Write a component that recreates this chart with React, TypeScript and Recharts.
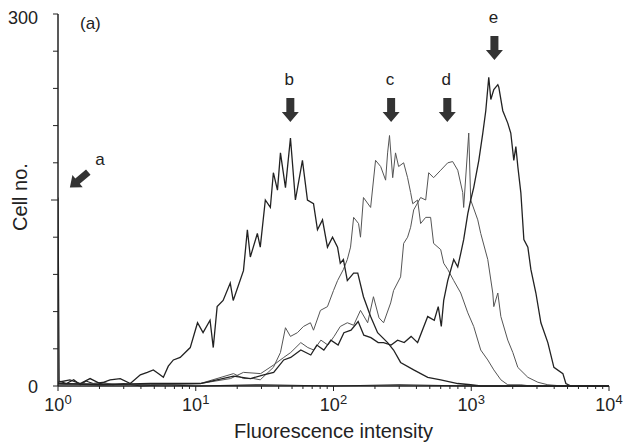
import React from "react";
import {
  LineChart,
  Line,
  XAxis,
  YAxis,
  ReferenceDot,
} from "recharts";

// [fluorescence, cell count]
const curveA: [number, number][] = [
  [1, 152], [1.02, 4], [1.15, 2], [1.3, 5], [1.45, 1], [1.6, 4], [1.8, 2],
  [2.1, 3], [2.5, 1], [3, 2], [4, 0], [6, 1], [10, 0], [30, 1], [100, 0],
  [300, 1], [1000, 0], [3000, 0], [10000, 0],
];

const curveB: [number, number][] = [
  [1, 3], [1.22, 5], [1.45, 2], [1.71, 6], [2.02, 2], [2.39, 5], [2.83, 6],
  [3.35, 2], [3.96, 9], [4.45, 11], [4.92, 13], [5.35, 10], [5.82, 7],
  [6.32, 16], [6.88, 21], [7.71, 23], [9.12, 31], [10.3, 51], [11.3, 43],
  [12.7, 53], [13.4, 31], [14.3, 64], [15.8, 69], [17.8, 83], [18.7, 69],
  [22.2, 93], [23.7, 126], [24.9, 104], [28, 123], [29.4, 112], [32, 150],
  [34.8, 144], [36.6, 172], [39.2, 158], [41.2, 188], [44.8, 160], [48.7, 200],
  [52.9, 150], [59.5, 182], [64.7, 150], [71.6, 147], [76.5, 126], [83.2, 134],
  [90.4, 112], [98.4, 120], [107, 112], [112, 99], [118, 102], [126, 85],
  [140, 91], [150, 91], [165, 72], [186, 56], [209, 43], [247, 35], [273, 29],
  [307, 19], [382, 13], [483, 7], [600, 5], [798, 2], [991, 1], [1172, 0],
  [2291, 0], [4627, 0], [10000, 0],
];

const curveC: [number, number][] = [
  [1, 2], [1.45, 2], [2.02, 1], [4.68, 1], [10.8, 2], [18.8, 10], [22.2, 6],
  [26.3, 6], [29.4, 5], [36.6, 15], [41.2, 27], [44.8, 47], [48.7, 40],
  [54.7, 43], [60.5, 48], [68, 51], [71.6, 45], [80.4, 61], [90.4, 64],
  [100, 77], [107, 85], [118, 94], [126, 102], [133, 112], [140, 136],
  [152, 131], [157, 120], [165, 152], [186, 144], [202, 182], [220, 177],
  [239, 166], [247, 188], [255, 202], [269, 168], [282, 188], [297, 177],
  [323, 180], [345, 168], [363, 156], [376, 147], [408, 150], [429, 131],
  [467, 136], [507, 136], [533, 115], [600, 110], [631, 99], [675, 94],
  [746, 85], [839, 75], [944, 59], [1042, 48], [1172, 29], [1318, 21],
  [1458, 13], [1640, 5], [1841, 1], [2291, 1], [2709, 0], [10000, 0],
];

const curveD: [number, number][] = [
  [1, 1], [2.02, 2], [4.68, 1], [10.8, 2], [17.9, 6], [22.2, 11], [29.6, 10],
  [36.8, 17], [43.5, 23], [48.9, 27], [57.9, 35], [65.1, 31], [72, 29],
  [81, 37], [91.1, 33], [101, 40], [112, 48], [126, 51], [140, 49], [157, 61],
  [177, 51], [195, 72], [214, 55], [231, 51], [260, 67], [273, 77], [307, 88],
  [323, 115], [345, 120], [363, 128], [382, 142], [429, 152], [467, 150],
  [491, 172], [533, 168], [600, 174], [675, 180], [733, 181], [798, 174],
  [867, 156], [881, 144], [959, 204], [991, 150], [1115, 134], [1172, 123],
  [1318, 102], [1433, 75], [1458, 64], [1559, 75], [1640, 56], [1841, 37],
  [2004, 27], [2178, 15], [2576, 7], [3046, 3], [3597, 1], [4627, 0],
  [10000, 0],
];

const curveE: [number, number][] = [
  [1, 2], [2.02, 1], [4.68, 2], [10.8, 2], [18.8, 8], [25, 6], [31.1, 9],
  [36.8, 11], [43.5, 21], [48.9, 23], [57.9, 29], [68.4, 25], [75.7, 33],
  [85.1, 29], [95.7, 37], [108, 33], [119, 43], [134, 45], [151, 52],
  [166, 41], [187, 39], [211, 35], [231, 35], [262, 33], [292, 37], [326, 35],
  [366, 40], [408, 35], [483, 56], [539, 53], [576, 64], [606, 48], [631, 69],
  [675, 85], [746, 102], [798, 96], [839, 107], [881, 118], [944, 139],
  [991, 150], [1042, 160], [1135, 182], [1213, 204], [1275, 222], [1340, 249],
  [1387, 231], [1458, 239], [1559, 243], [1585, 241], [1694, 222], [1841, 212],
  [1936, 204], [2037, 182], [2108, 193], [2178, 177], [2291, 156], [2410, 118],
  [2576, 112], [2709, 94], [2946, 75], [3203, 51], [3597, 35], [3981, 15],
  [4627, 10], [4864, 2], [5295, 0], [10000, 0],
];

const xTicks = [
  1, 2, 3, 4, 5, 6, 7, 8, 9,
  10, 20, 30, 40, 50, 60, 70, 80, 90,
  100, 200, 300, 400, 500, 600, 700, 800, 900,
  1000, 2000, 3000, 4000, 5000, 6000, 7000, 8000, 9000,
  10000,
];
const yTicks = [0, 30, 60, 90, 120, 150, 180, 210, 240, 270, 300];

// arrow tips: [label, fluorescence, count]
const arrows: [string, number, number][] = [
  ["b", 48.6, 213],
  ["c", 262, 213],
  ["d", 670, 213],
  ["e", 1473, 263],
];
const arrowA: [string, number, number] = ["a", 1.22, 160];

const toPoints = (c: [number, number][]) => c.map(([x, y]) => ({ x, y }));

const INK = "#222";
const FONT = "'Liberation Sans', Arial, sans-serif";

const XTick = (props: any) => {
  const { x, y, payload } = props;
  const lg = Math.log10(payload.value);
  const exp = Math.round(lg);
  const major = Math.abs(lg - exp) < 1e-6;
  return (
    <g>
      <line x1={x} x2={x} y1={y} y2={y + (major ? 5 : 3)} stroke={INK} />
      {major && (
        <text x={x} y={y + 25} textAnchor="middle" fontSize={18} fill={INK}>
          <tspan>10</tspan>
          <tspan dy={-7} fontSize={13}>
            {exp}
          </tspan>
        </text>
      )}
    </g>
  );
};

const YTick = (props: any) => {
  const { x, y, payload } = props;
  const v = payload.value;
  return (
    <g>
      <line x1={x - (v === 150 ? 7 : 5)} x2={x} y1={y} y2={y} stroke={INK} />
      {(v === 0 || v === 300) && (
        <text
          x={x - 20}
          y={y + (v === 300 ? 10 : 7)}
          textAnchor="end"
          fontSize={18}
          fill={INK}
        >
          {v}
        </text>
      )}
    </g>
  );
};

const DownArrow = (label: string) => (props: any) => {
  const { cx, cy } = props;
  const pts = [
    [cx - 4, cy - 24],
    [cx + 4, cy - 24],
    [cx + 4, cy - 10],
    [cx + 8.5, cy - 10],
    [cx, cy],
    [cx - 8.5, cy - 10],
    [cx - 4, cy - 10],
  ]
    .map((p) => p.join(","))
    .join(" ");
  return (
    <g>
      <polygon points={pts} fill="#333" />
      <text x={cx - 1} y={cy - 37} textAnchor="middle" fontSize={17} fill={INK}>
        {label}
      </text>
    </g>
  );
};

const SlantArrow = (label: string) => (props: any) => {
  const { cx, cy } = props;
  const pts = [
    [cx - 3.5, cy - 24],
    [cx + 3.5, cy - 24],
    [cx + 3.5, cy - 10],
    [cx + 8, cy - 10],
    [cx, cy],
    [cx - 8, cy - 10],
    [cx - 3.5, cy - 10],
  ]
    .map((p) => p.join(","))
    .join(" ");
  return (
    <g>
      <polygon points={pts} fill="#333" transform={`rotate(50 ${cx} ${cy})`} />
      <text x={cx + 30} y={cy - 23} textAnchor="middle" fontSize={17} fill={INK}>
        {label}
      </text>
    </g>
  );
};

export default function App() {
  return (
    <div style={{ position: "absolute", left: 0, top: 0, background: "#fff" }}>
      <LineChart
        width={629}
        height={443}
        margin={{ top: 14, right: 20, bottom: 0, left: 0 }}
        style={{ fontFamily: FONT }}
      >
        <XAxis
          dataKey="x"
          type="number"
          scale="log"
          domain={[1, 10000]}
          ticks={xTicks}
          interval={0}
          allowDataOverflow
          height={57}
          tickLine={false}
          tickSize={0}
          tickMargin={0}
          tick={<XTick />}
          axisLine={{ stroke: INK, strokeWidth: 1.5 }}
          label={{
            content: ({ viewBox }: any) => (
              <text
                x={viewBox.x + viewBox.width / 2}
                y={438}
                textAnchor="middle"
                fontSize={20}
                fill={INK}
              >
                Fluorescence intensity
              </text>
            ),
          }}
        />
        <YAxis
          type="number"
          domain={[0, 300]}
          ticks={yTicks}
          interval={0}
          width={58}
          tickLine={false}
          tickSize={0}
          tickMargin={0}
          tick={<YTick />}
          axisLine={{ stroke: INK, strokeWidth: 1.5 }}
          label={{
            content: () => (
              <text
                x={27}
                y={197}
                transform="rotate(-90 27 197)"
                textAnchor="middle"
                fontSize={20}
                fill={INK}
              >
                Cell no.
              </text>
            ),
          }}
        />
        <Line data={toPoints(curveA)} dataKey="y" stroke={INK} strokeWidth={1.2} dot={false} isAnimationActive={false} />
        <Line data={toPoints(curveC)} dataKey="y" stroke="#555" strokeWidth={1} dot={false} isAnimationActive={false} />
        <Line data={toPoints(curveD)} dataKey="y" stroke="#555" strokeWidth={1} dot={false} isAnimationActive={false} />
        <Line data={toPoints(curveB)} dataKey="y" stroke={INK} strokeWidth={1.3} dot={false} isAnimationActive={false} />
        <Line data={toPoints(curveE)} dataKey="y" stroke={INK} strokeWidth={1.3} dot={false} isAnimationActive={false} />
        {arrows.map(([label, x, y]) => (
          <ReferenceDot key={label} x={x} y={y} ifOverflow="visible" shape={DownArrow(label)} />
        ))}
        <ReferenceDot x={arrowA[1]} y={arrowA[2]} ifOverflow="visible" shape={SlantArrow(arrowA[0])} />
        <text x={80} y={29} fontSize={17} fill={INK} fontFamily={FONT}>
          (a)
        </text>
      </LineChart>
    </div>
  );
}
